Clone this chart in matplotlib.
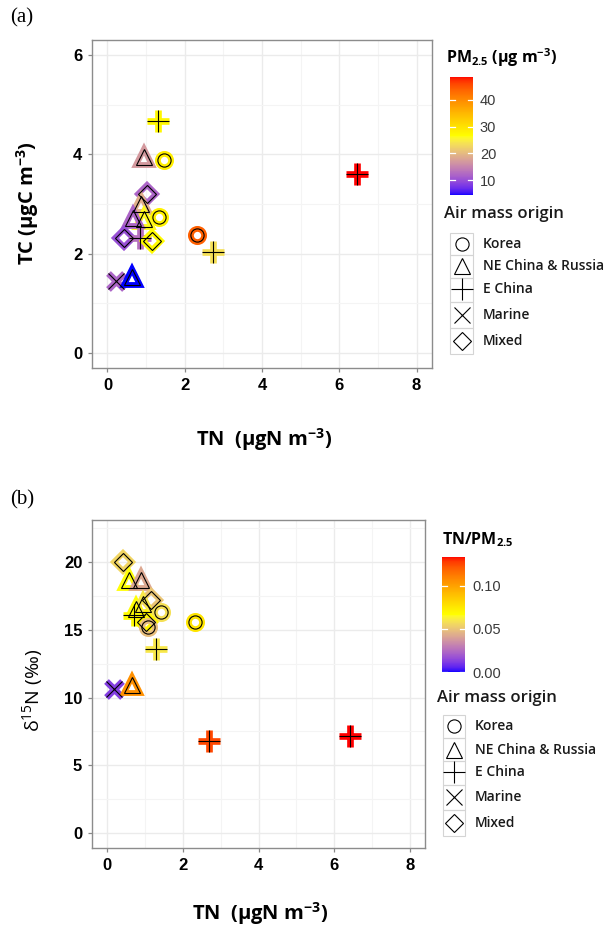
import matplotlib

matplotlib.use("Agg")
import matplotlib.pyplot as plt
import numpy as np
from matplotlib.colors import ListedColormap, Normalize
from matplotlib.cm import ScalarMappable
from matplotlib.patches import Rectangle

plt.rcParams["mathtext.default"] = "regular"

W, H = 616, 927
SANS = ["Open Sans", "DejaVu Sans"]

ORIGINS = ["Korea", "NE China & Russia", "E China", "Marine", "Mixed"]
MARKERS = {"Korea": "o", "NE China & Russia": "^", "E China": "+", "Marine": "x", "Mixed": "D"}
MSIZE = {"Korea": 9.5, "NE China & Russia": 11.5, "E China": 16, "Marine": 11, "Mixed": 9.5}

# panel (a): TN vs TC, coloured by PM2.5
tn_a = [1.31, 0.94, 1.46, 6.47, 1.03, 0.86, 1.33, 0.94, 0.66, 0.42, 0.84, 1.16, 2.33, 2.72, 0.21, 0.64]
tc_a = [4.68, 3.95, 3.88, 3.60, 3.20, 3.00, 2.73, 2.70, 2.72, 2.31, 2.31, 2.26, 2.38, 2.03, 1.46, 1.53]
pm25_a = [27.5, 17.0, 28.5, 48.5, 12.0, 19.0, 28.0, 26.0, 12.0, 10.0, 13.0, 27.0, 44.0, 23.5, 12.0, 4.5]
origin_a = ["E China", "NE China & Russia", "Korea", "E China", "Mixed", "NE China & Russia",
            "Korea", "NE China & Russia", "NE China & Russia", "Mixed", "E China", "Mixed",
            "Korea", "E China", "Marine", "NE China & Russia"]

# panel (b): TN vs d15N, coloured by TN/PM2.5
tn_b = [0.43, 0.59, 0.90, 1.16, 0.77, 0.94, 0.72, 1.43, 1.03, 1.07, 2.31, 1.29, 0.19, 0.65, 2.69, 6.41]
d15n_b = [20.0, 18.7, 18.7, 17.2, 16.5, 16.9, 16.1, 16.3, 15.6, 15.2, 15.6, 13.6, 10.6, 10.9, 6.8, 7.2]
ratio_b = [0.055, 0.066, 0.042, 0.050, 0.066, 0.060, 0.068, 0.058, 0.070, 0.048, 0.076, 0.060,
           0.012, 0.105, 0.125, 0.133]
origin_b = ["Mixed", "NE China & Russia", "NE China & Russia", "Mixed", "NE China & Russia",
            "NE China & Russia", "E China", "Korea", "Mixed", "Korea", "Korea", "E China",
            "Marine", "NE China & Russia", "E China", "E China"]


def _to_lab(rgb):
    c = np.asarray(rgb, float)
    lin = np.where(c <= 0.04045, c / 12.92, ((c + 0.055) / 1.055) ** 2.4)
    m = np.array([[0.4124, 0.3576, 0.1805], [0.2126, 0.7152, 0.0722], [0.0193, 0.1192, 0.9505]])
    xyz = m @ lin / np.array([0.95047, 1.0, 1.08883])
    f = np.where(xyz > 0.008856, np.cbrt(xyz), 7.787 * xyz + 16 / 116)
    return np.array([116 * f[1] - 16, 500 * (f[0] - f[1]), 200 * (f[1] - f[2])])


def _from_lab(lab):
    fy = (lab[0] + 16) / 116
    f = np.array([fy + lab[1] / 500, fy, fy - lab[2] / 200])
    xyz = np.where(f > 0.2069, f ** 3, (f - 16 / 116) / 7.787) * np.array([0.95047, 1.0, 1.08883])
    m = np.array([[0.4124, 0.3576, 0.1805], [0.2126, 0.7152, 0.0722], [0.0193, 0.1192, 0.9505]])
    lin = np.clip(np.linalg.solve(m, xyz), 0, 1)
    c = np.where(lin <= 0.0031308, 12.92 * lin, 1.055 * lin ** (1 / 2.4) - 0.055)
    return np.clip(c, 0, 1)


def lab_gradient(colors, n=256):
    # ggplot-style gradient: interpolate the anchor colours in Lab space
    labs = [_to_lab(c) for c in colors]
    out = []
    for t in np.linspace(0, 1, n):
        seg = min(int(t * (len(labs) - 1)), len(labs) - 2)
        u = t * (len(labs) - 1) - seg
        out.append(_from_lab(labs[seg] * (1 - u) + labs[seg + 1] * u))
    return ListedColormap(out)


CMAP = lab_gradient([(0, 0, 1), (1, 1, 0), (1, 0, 0)])

fig = plt.figure(figsize=(W / 100, H / 100), dpi=100)
lay = fig.add_axes([0, 0, 1, 1], zorder=5)
lay.set_xlim(0, W)
lay.set_ylim(H, 0)
lay.axis("off")


def box(x0, y0, x1, y1):
    return [x0 / W, 1 - y1 / H, (x1 - x0) / W, (y1 - y0) / H]


def draw_panel(rect, x, y, c, origin, norm, ylim, yticks, yminor):
    ax = fig.add_axes(rect)
    ax.set_xlim(-0.4, 8.4)
    ax.set_ylim(*ylim)
    ax.set_xticks([0, 2, 4, 6, 8])
    ax.set_yticks(yticks)
    ax.set_xticks([1, 3, 5, 7], minor=True)
    ax.set_yticks(yminor, minor=True)
    ax.grid(which="major", color="#EBEBEB", lw=1.0, zorder=0)
    ax.grid(which="minor", color="#F4F4F4", lw=0.8, zorder=0)
    ax.tick_params(which="minor", length=0)
    ax.tick_params(which="major", length=3, color="#888888", width=0.9, pad=4)
    for lab in ax.get_xticklabels() + ax.get_yticklabels():
        lab.set_family("Liberation Sans")
        lab.set_fontweight("bold")
        lab.set_fontsize(12)
    for sp in ax.spines.values():
        sp.set_color("#8C8C8C")
        sp.set_linewidth(1.0)
    for xi, yi, ci, oi in zip(x, y, c, origin):
        col = CMAP(norm(ci))
        mk = MARKERS[oi]
        ms = MSIZE[oi]
        if mk in "+x":
            ax.plot(xi, yi, mk, ms=ms, mew=4.8, color=col, zorder=3)
        else:
            ax.plot(xi, yi, mk, ms=ms, mew=4.2, mfc="none", mec=col, zorder=3)
        ax.plot(xi, yi, mk, ms=ms, mew=0.8, mfc="none", mec="black", color="black", zorder=4)
    return ax


def draw_cbar(rect, norm, ticks, fmt):
    cax = fig.add_axes(rect)
    cb = fig.colorbar(ScalarMappable(norm=norm, cmap=CMAP), cax=cax)
    cb.outline.set_visible(False)
    cb.set_ticks(ticks)
    cb.set_ticklabels([fmt.format(t) for t in ticks])
    cax.tick_params(length=0, pad=5, labelsize=10.5, labelcolor="#3A3A3A")
    for lab in cax.get_yticklabels():
        lab.set_family("Liberation Sans")
    for t in ticks:
        cax.plot([0, 0.2], [t, t], color="white", lw=0.9)
        cax.plot([0.8, 1], [t, t], color="white", lw=0.9)
    cax.set_xlim(0, 1)


def draw_shape_legend(title_y, box_x0, box_x1, label_x, rows_y):
    lay.text(box_x0 - 6, title_y, "Air mass origin", fontsize=12, family=SANS, weight="semibold",
             va="center", ha="left", color="#1A1A1A")
    edges = [rows_y[0] - 11] + [(a + b) / 2 for a, b in zip(rows_y[:-1], rows_y[1:])] + [rows_y[-1] + 13]
    for i, name in enumerate(ORIGINS):
        lay.add_patch(Rectangle((box_x0, edges[i]), box_x1 - box_x0, edges[i + 1] - edges[i],
                                fill=False, ec="#D4D4D4", lw=0.8))
        lay.plot((box_x0 + box_x1) / 2, rows_y[i], MARKERS[name], ms=MSIZE[name], mew=0.8,
                 mfc="none", mec="black", color="black")
        lay.text(label_x, rows_y[i], name, fontsize=10, family=SANS, weight="semibold",
                 va="center", ha="left", color="#1A1A1A")


# panel (a)
norm_a = Normalize(min(pm25_a), max(pm25_a))
draw_panel(box(92, 40, 432, 368), tn_a, tc_a, pm25_a, origin_a, norm_a,
           (-0.3, 6.3), [0, 2, 4, 6], [1, 3, 5])
draw_cbar(box(450, 77, 473, 195), norm_a, [10, 20, 30, 40], "{:g}")
lay.text(446, 58, r"PM$_{2.5}$ (μg m$^{-3}$)", fontsize=11.5, family=SANS, weight="bold",
         va="center", ha="left")
draw_shape_legend(214, 450, 473, 483, [244, 266, 289, 315, 341])
lay.text(28, 203, r"TC (μgC m$^{-3}$)", rotation=90, fontsize=14.5, family=SANS,
         weight="bold", ha="center", va="center")
lay.text(264, 440, r"TN  (μgN m$^{-3}$)", fontsize=14.5, family=SANS,
         weight="bold", ha="center", va="center")
lay.text(10, 18, "(a)", fontsize=15, family="Liberation Serif", ha="left", va="center")

# panel (b)
norm_b = Normalize(0.0, max(ratio_b))
draw_panel(box(92, 520, 425, 848), tn_b, d15n_b, ratio_b, origin_b, norm_b,
           (-1.1, 23.1), [0, 5, 10, 15, 20], [2.5, 7.5, 12.5, 17.5, 22.5])
draw_cbar(box(442, 557, 465, 672), norm_b, [0.0, 0.05, 0.10], "{:.2f}")
lay.text(442, 540, r"TN/PM$_{2.5}$", fontsize=11.5, family=SANS, weight="bold",
         va="center", ha="left")
draw_shape_legend(698, 443, 465, 475, [726, 750, 772, 797, 823])
lay.text(33, 690, r"δ$^{15}$N (‰)", rotation=90, fontsize=14, family=SANS,
         ha="center", va="center")
lay.text(260, 914, r"TN  (μgN m$^{-3}$)", fontsize=14.5, family=SANS,
         weight="bold", ha="center", va="center")
lay.text(10, 500, "(b)", fontsize=15, family="Liberation Serif", ha="left", va="center")

fig.savefig("out.png", dpi=100, facecolor="white")
